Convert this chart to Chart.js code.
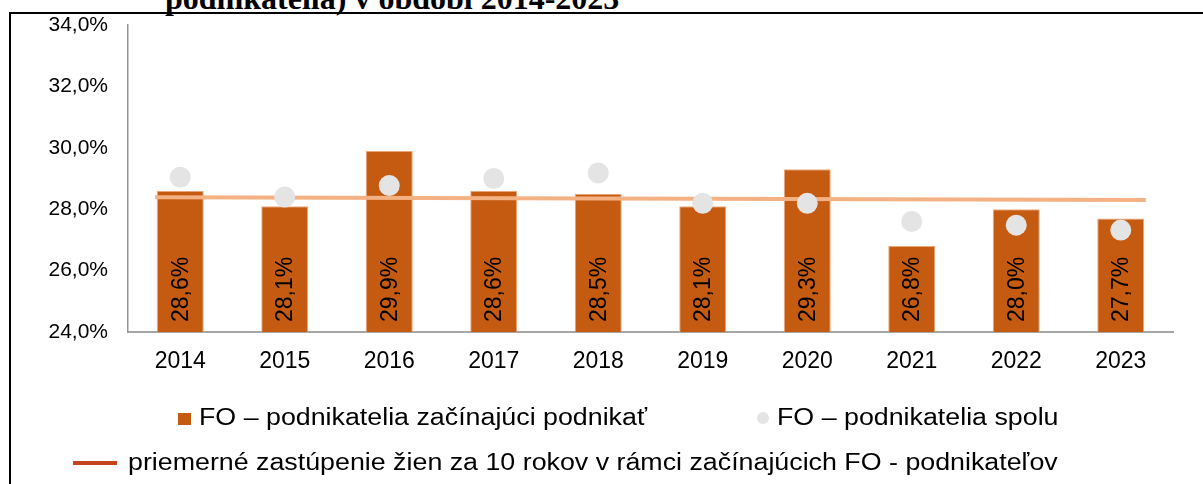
<!DOCTYPE html>
<html lang="sk">
<head>
<meta charset="utf-8">
<title>Zastúpenie žien – FO podnikatelia 2014-2023</title>
<script src="https://cdn.jsdelivr.net/npm/chart.js@4.4.1/dist/chart.umd.min.js"></script>
<style>
    html, body { margin: 0; padding: 0; background: #fff; }
    #wrap { position: relative; width: 1203px; height: 484px; overflow: hidden; font-family: "Liberation Sans", Arial, sans-serif; }
    #frame { position: absolute; left: 9px; top: 12px; right: -5px; bottom: -5px; border-left: 2px solid #000; border-top: 2px solid #000; }
    #title { position: absolute; left: 165px; top: -18px; font: bold 32px/32px "Liberation Serif", "Times New Roman", serif; white-space: nowrap; color: #000; }
    #chart { position: absolute; left: 0; top: 0; }
    .marker { position: absolute; }
    .legend-txt { position: absolute; font-size: 23px; line-height: 23px; color: #000; white-space: nowrap; transform: scaleX(1.165); transform-origin: 0 0; }
</style>
</head>
<body>
<div id="wrap">
    <div id="frame"></div>
    <div id="title">podnikatelia) v období 2014-2023</div>
    <canvas id="chart" width="1203" height="484"></canvas>
    <span class="marker" id="mk-0" style="left:178px; top:413px; width:13px; height:12px;"></span>
    <span class="legend-txt" id="lt-0" style="left:199px; top:406px;"></span>
    <span class="marker" id="mk-2" style="left:757px; top:412px; width:12px; height:12px; border-radius:50%;"></span>
    <span class="legend-txt" id="lt-2" style="left:777px; top:406px;"></span>
    <span class="marker" id="mk-1" style="left:73px; top:461px; width:44px; height:4px;"></span>
    <span class="legend-txt" id="lt-1" style="left:128px; top:451px;"></span>
</div>
<script>
const years = ['2014', '2015', '2016', '2017', '2018', '2019', '2020', '2021', '2022', '2023'];
// FO - podnikatelia zacinajuci podnikat (bars)
const startingShare = [28.6, 28.1, 29.9, 28.6, 28.5, 28.1, 29.3, 26.8, 28.0, 27.7];
// FO - podnikatelia spolu (grey dots)
const totalShare = [29.04, 28.40, 28.77, 29.00, 29.18, 28.19, 28.19, 27.60, 27.48, 27.32];
// average line, ends at the outer edges of the first and last bar (category index units)
const averageX = [-0.24, 9.24];
const averageY = [28.39, 28.30];
const yTicks = [24, 26, 28, 30, 32, 34];

const labels = {
    bars: 'FO – podnikatelia začínajúci podnikať',
    dots: 'FO – podnikatelia spolu',
    line: 'priemerné zastúpenie žien za 10 rokov v rámci začínajúcich FO - podnikateľov'
};

const fmtPct = v => v.toFixed(1).replace('.', ',') + '%';

// vertical value labels at the foot of each bar
const barLabels = {
    id: 'barLabels',
    afterDatasetsDraw(chart) {
        const meta = chart.getDatasetMeta(0);
        const bottom = chart.chartArea.bottom;
        const ctx = chart.ctx;
        ctx.save();
        ctx.font = '23px "Liberation Sans", Arial, sans-serif';
        ctx.fillStyle = '#000';
        ctx.textAlign = 'left';
        ctx.textBaseline = 'middle';
        meta.data.forEach((bar, i) => {
            ctx.save();
            ctx.translate(bar.x + 1, Math.min(bar.base, bottom) - 10);
            ctx.rotate(-Math.PI / 2);
            ctx.fillText(fmtPct(startingShare[i]), 0, 0);
            ctx.restore();
        });
        ctx.restore();
    }
};

document.addEventListener('DOMContentLoaded', () => {
    const ctx = document.getElementById('chart').getContext('2d');
    const chart = new Chart(ctx, {
        type: 'bar',
        data: {
            labels: years,
            datasets: [{
                type: 'bar',
                label: labels.bars,
                data: startingShare,
                backgroundColor: '#C55A11',
                borderColor: '#F0A878',
                borderWidth: 1,
                grouped: false,
                barPercentage: 0.9,
                categoryPercentage: 0.5,
                order: 3
            }, {
                type: 'line',
                label: labels.line,
                xAxisID: 'xLine',
                data: averageX.map((x, i) => ({ x: x, y: averageY[i] })),
                borderColor: '#F4B183',
                borderWidth: 4,
                pointRadius: 0,
                tension: 0,
                order: 2
            }, {
                type: 'line',
                label: labels.dots,
                data: totalShare,
                showLine: false,
                pointRadius: 10.5,
                pointBackgroundColor: '#E4E4E4',
                pointBorderWidth: 0,
                order: 1
            }]
        },
        options: {
            responsive: false,
            animation: false,
            events: [],
            layout: { padding: { top: 25, right: 30, left: 0, bottom: 0 } },
            plugins: {
                legend: { display: false },
                tooltip: { enabled: false }
            },
            scales: {
                x: {
                    grid: { display: false, drawTicks: false },
                    border: { display: true, color: '#A6A6A6', width: 2 },
                    ticks: { color: '#000', font: { family: '"Liberation Sans", Arial, sans-serif', size: 23 }, padding: 16, maxRotation: 0 },
                    afterFit: scale => { scale.height = 152; }
                },
                xLine: {
                    type: 'linear',
                    display: false,
                    offset: false,
                    min: -0.5,
                    max: 9.5
                },
                y: {
                    min: 24,
                    max: 34,
                    grid: { display: false, drawTicks: false },
                    border: { display: true, color: '#969696', width: 1.5 },
                    ticks: {
                        color: '#000',
                        font: { family: '"Liberation Sans", Arial, sans-serif', size: 21 },
                        padding: 20,
                        callback: v => fmtPct(v)
                    },
                    afterBuildTicks: scale => { scale.ticks = yTicks.map(v => ({ value: v })); },
                    afterFit: scale => {
                        scale.width = 128;
                        // tick padding would otherwise push the plot area down
                        scale.paddingTop = 0;
                        scale.paddingBottom = 0;
                    }
                }
            }
        },
        plugins: [barLabels]
    });

    // html legend, laid out like the original two-row legend
    const legendColors = ['#C55A11', '#C5441C', '#E4E4E4'];
    chart.data.datasets.forEach((ds, i) => {
        document.getElementById('mk-' + i).style.background = legendColors[i];
        document.getElementById('lt-' + i).textContent = ds.label;
    });
});
</script>
</body>
</html>
